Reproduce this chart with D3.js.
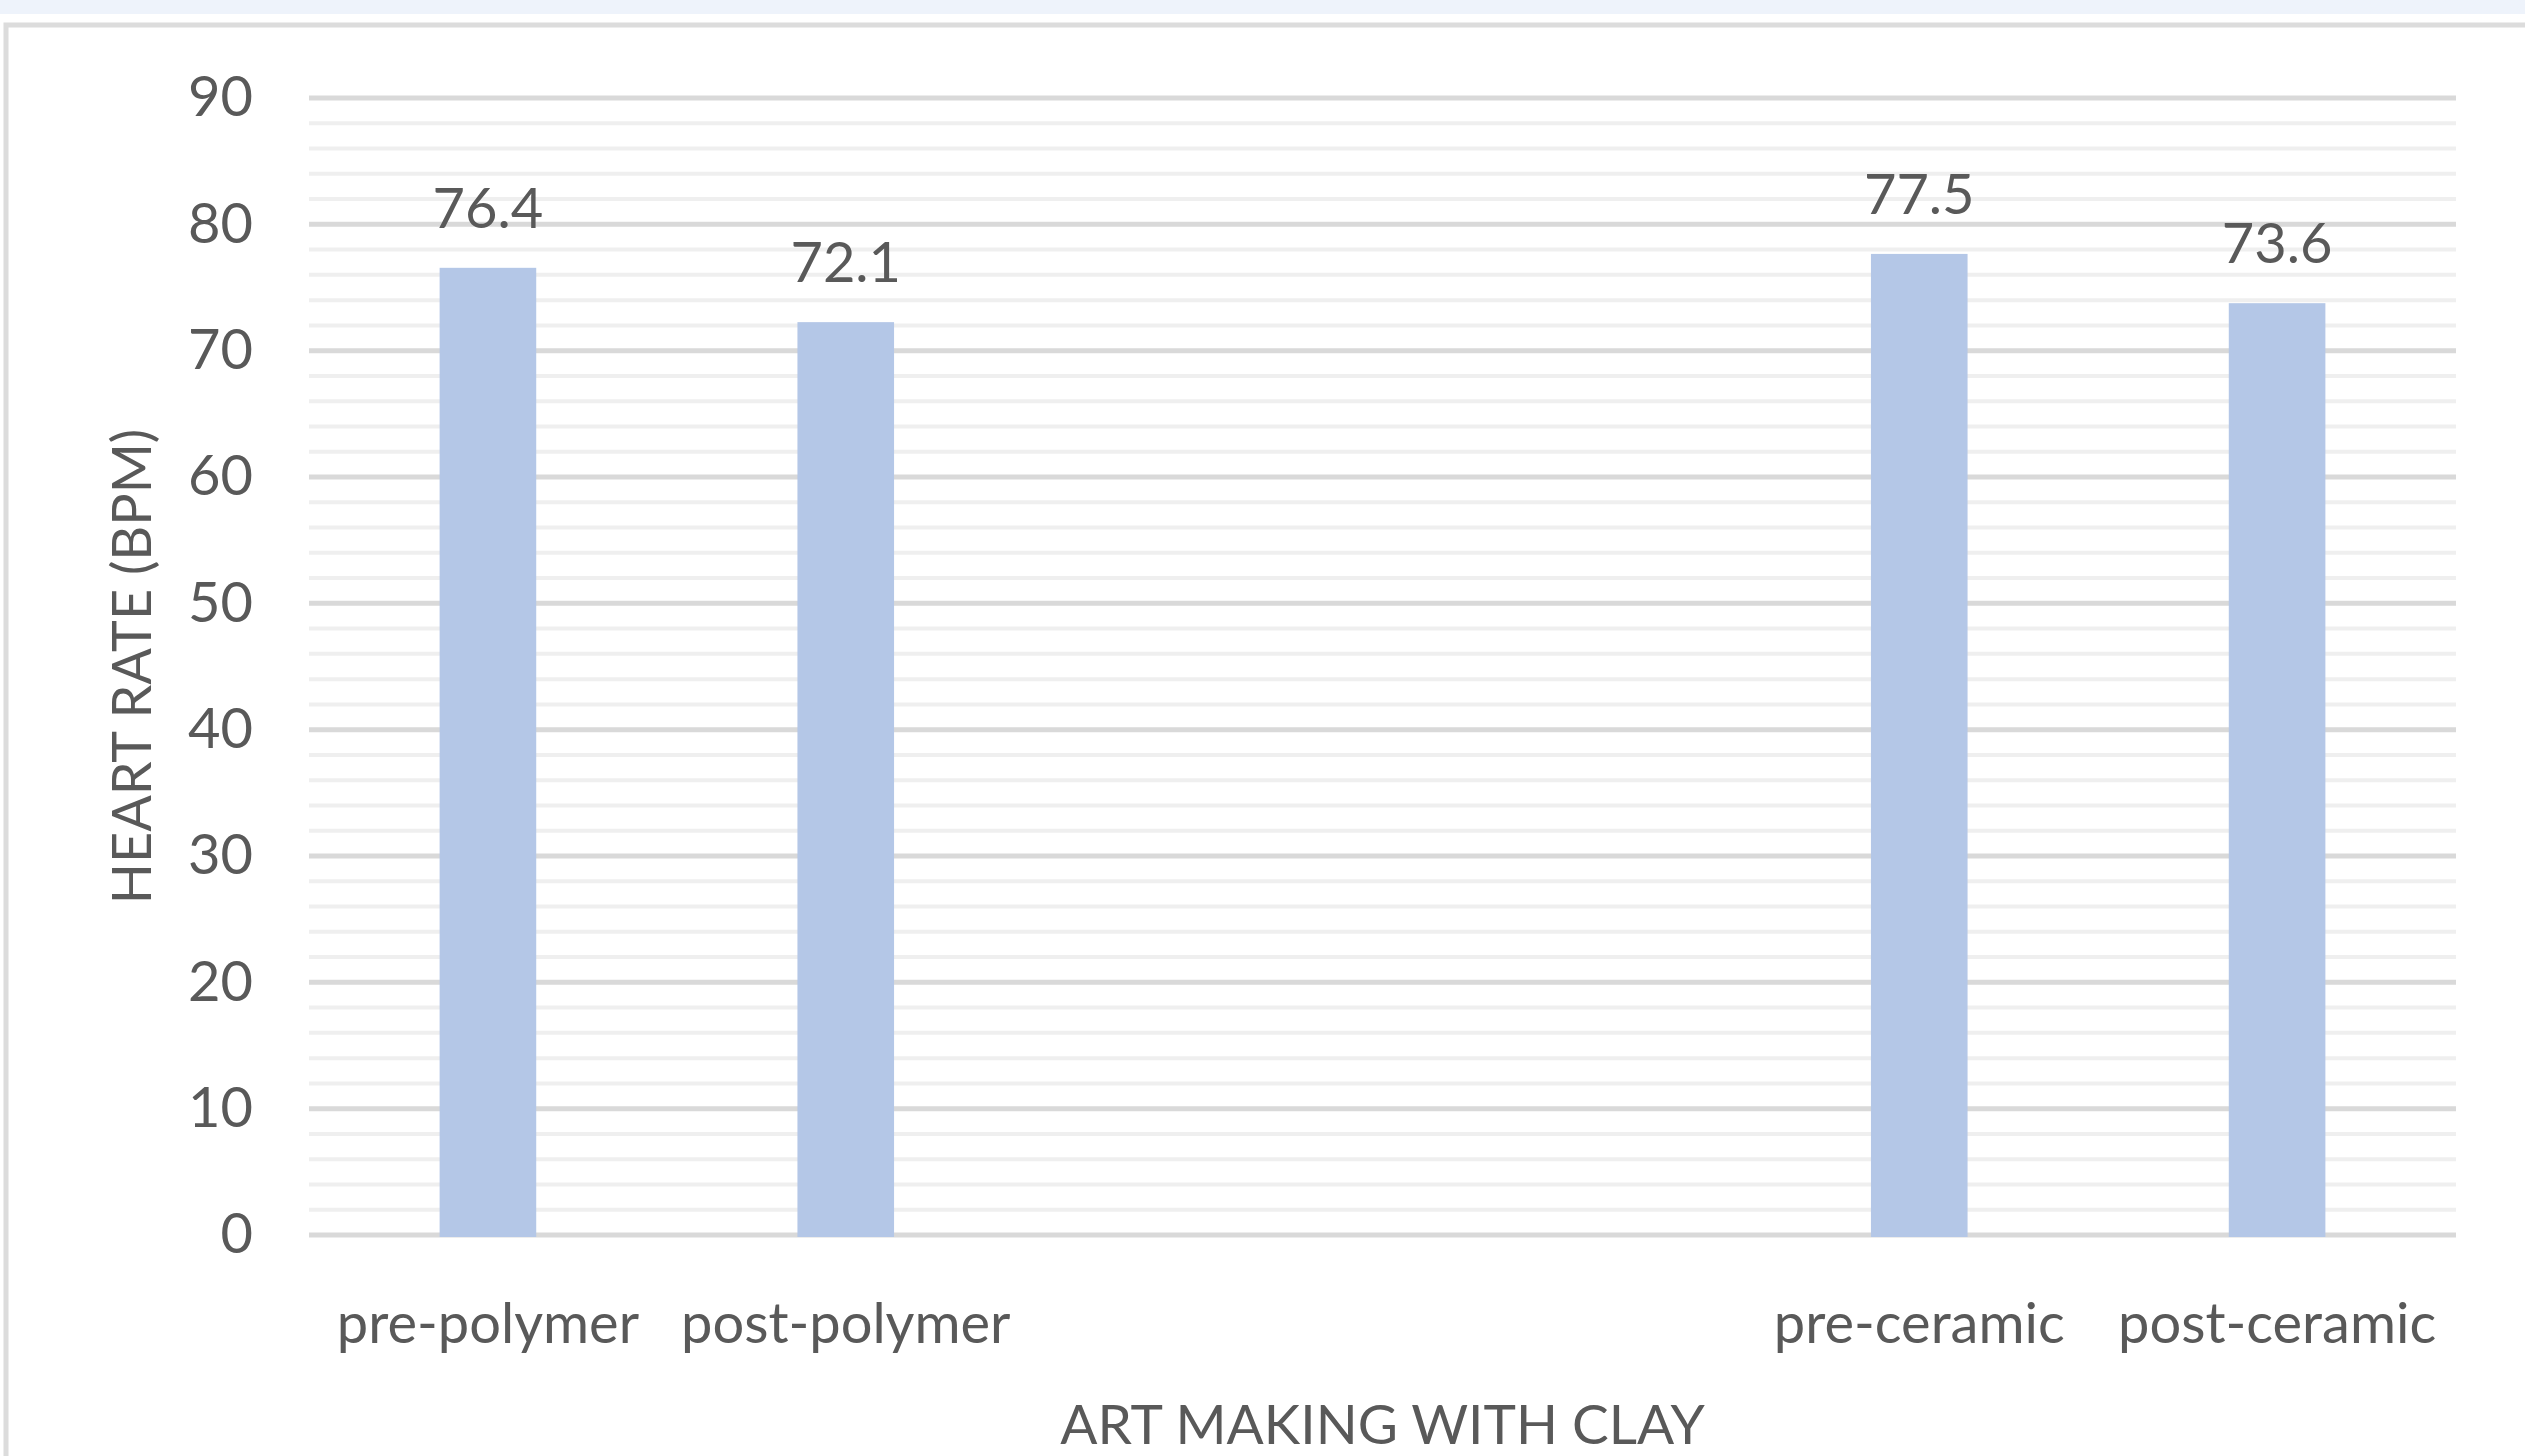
<!DOCTYPE html>
<html>
<head>
<meta charset="utf-8">
<script src="https://cdn.jsdelivr.net/npm/d3@7"></script>
<style>
  html, body { margin: 0; padding: 0; background: #fff; }
  svg { display: block; }
  text { font-family: Lato, "Open Sans", sans-serif; fill: #595959; }
</style>
</head>
<body>
<svg id="chart" width="2525" height="1456"></svg>
<script>
// Data
// ----
const categories = ["pre-polymer", "post-polymer", "", "", "pre-ceramic", "post-ceramic"];
const heartRates = [76.4, 72.1, null, null, 77.5, 73.6];
const yMajorTicks = [0, 10, 20, 30, 40, 50, 60, 70, 80, 90];
const yMinorTicks = d3.range(2, 90, 2).filter(v => v % 10 !== 0);
const yTitle = "HEART RATE (BPM)";
const xTitle = "ART MAKING WITH CLAY";

// Layout
// ------
const W = 2525, H = 1456;
const plot = { left: 309, right: 2456, top: 98, bottom: 1235 };

const svg = d3.select("#chart");

// page strip and chart frame
svg.append("rect").attr("x", 0).attr("y", 0).attr("width", W).attr("height", 14).attr("fill", "#eef3fb");
svg.append("rect").attr("x", 6).attr("y", 25).attr("width", W + 20).attr("height", H + 20)
  .attr("fill", "none").attr("stroke", "#dcdcdc").attr("stroke-width", 5);

// Scales
// ------
const x = d3.scaleBand().domain(d3.range(categories.length)).range([plot.left, plot.right]).padding(0);
const y = d3.scaleLinear().domain([0, 90]).range([plot.bottom, plot.top]);
const barW = x.bandwidth() * 0.27;

// Gridlines
const grid = svg.append("g");
grid.selectAll("line.minor").data(yMinorTicks).join("line")
  .attr("class", "minor")
  .attr("x1", plot.left).attr("x2", plot.right)
  .attr("y1", d => y(d)).attr("y2", d => y(d))
  .attr("stroke", "#efefef").attr("stroke-width", 4);
grid.selectAll("line.major").data(yMajorTicks).join("line")
  .attr("class", "major")
  .attr("x1", plot.left).attr("x2", plot.right)
  .attr("y1", d => y(d)).attr("y2", d => y(d))
  .attr("stroke", "#d9d9d9").attr("stroke-width", 5);

// Bars
const rows = heartRates.map((v, i) => ({ i, v })).filter(d => d.v != null);
svg.append("g").selectAll("rect").data(rows).join("rect")
  .attr("x", d => x(d.i) + (x.bandwidth() - barW) / 2)
  .attr("y", d => y(d.v) - 2)
  .attr("width", barW)
  .attr("height", d => y(0) - y(d.v) + 4)
  .attr("fill", "#b4c7e7");

// Data labels
svg.append("g").selectAll("text").data(rows).join("text")
  .attr("x", d => x(d.i) + x.bandwidth() / 2)
  .attr("y", d => y(d.v) - 42)
  .attr("text-anchor", "middle")
  .attr("font-size", 56)
  .text(d => d.v.toFixed(1));

// Axes
// ----
const yAxis = svg.append("g")
  .attr("transform", `translate(${plot.left - 56},0)`)
  .call(d3.axisLeft(y).tickValues(yMajorTicks).tickSize(0).tickPadding(0));
yAxis.select(".domain").remove();
yAxis.selectAll("text").attr("font-size", 56).attr("font-family", null).attr("fill", null);

const xAxis = svg.append("g")
  .attr("transform", `translate(0,${plot.bottom})`)
  .call(d3.axisBottom(x).tickFormat(i => categories[i]).tickSize(0).tickPadding(0));
xAxis.select(".domain").remove();
xAxis.selectAll("text").attr("dy", null).attr("y", 108)
  .attr("font-size", 56).attr("font-family", null).attr("fill", null);

// Axis titles
svg.append("text")
  .attr("transform", `translate(151,${(plot.top + plot.bottom) / 2}) rotate(-90)`)
  .attr("text-anchor", "middle")
  .attr("font-size", 54)
  .text(yTitle);

svg.append("text")
  .attr("x", (plot.left + plot.right) / 2)
  .attr("y", 1444)
  .attr("text-anchor", "middle")
  .attr("font-size", 55)
  .text(xTitle);
</script>
</body>
</html>
